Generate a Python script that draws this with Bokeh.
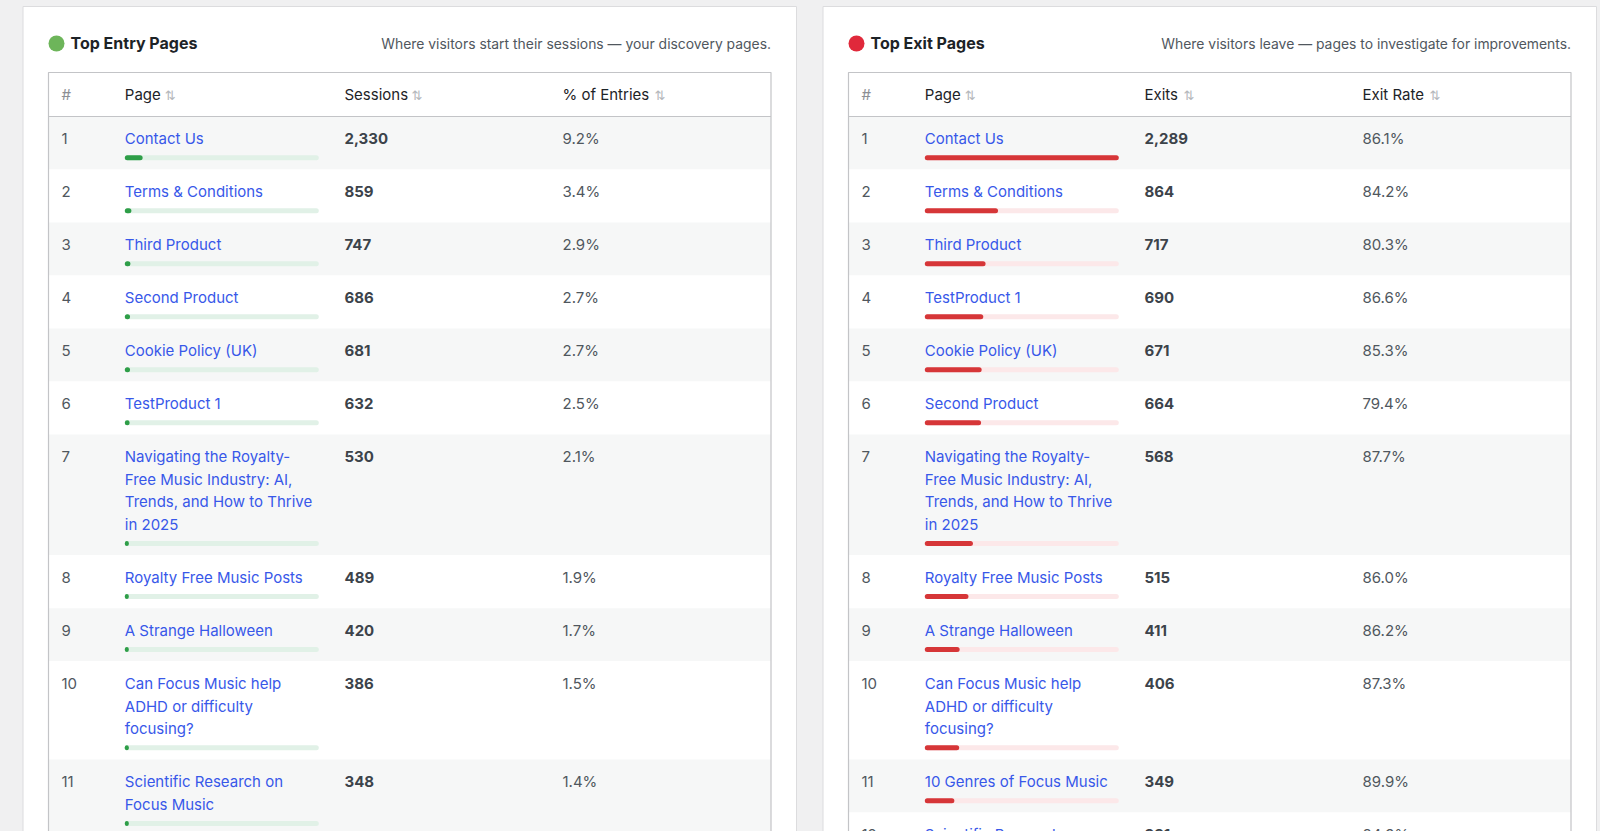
from bokeh.plotting import figure
from bokeh.embed import file_html
from bokeh.resources import INLINE
from bokeh.core.properties import value
from bokeh.models import Range1d, GlobalInlineStyleSheet

# --- data ---
entry_pages = [
    "Contact Us",
    "Terms & Conditions",
    "Third Product",
    "Second Product",
    "Cookie Policy (UK)",
    "TestProduct 1",
    "Navigating the Royalty-\nFree Music Industry: AI,\nTrends, and How to Thrive\nin 2025",
    "Royalty Free Music Posts",
    "A Strange Halloween",
    "Can Focus Music help\nADHD or difficulty\nfocusing?",
    "Scientific Research on\nFocus Music",
]
entry_sessions = [2330, 859, 747, 686, 681, 632, 530, 489, 420, 386, 348]
entry_share = [9.2, 3.4, 2.9, 2.7, 2.7, 2.5, 2.1, 1.9, 1.7, 1.5, 1.4]

exit_pages = [
    "Contact Us",
    "Terms & Conditions",
    "Third Product",
    "TestProduct 1",
    "Cookie Policy (UK)",
    "Second Product",
    "Navigating the Royalty-\nFree Music Industry: AI,\nTrends, and How to Thrive\nin 2025",
    "Royalty Free Music Posts",
    "A Strange Halloween",
    "Can Focus Music help\nADHD or difficulty\nfocusing?",
    "10 Genres of Focus Music",
    "Scientific Research on\nFocus Music",
]
exit_counts = [2289, 864, 717, 690, 671, 664, 568, 515, 411, 406, 349, 331]
exit_rate = [86.1, 84.2, 80.3, 86.6, 85.3, 79.4, 87.7, 86.0, 86.2, 87.3, 89.9, 84.9]

entry_headers = ["#", "Page", "Sessions", "% of Entries"]
exit_headers = ["#", "Page", "Exits", "Exit Rate"]

# --- layout (data units == page pixels) ---
FONT = value("Inter")
W, H = 1600, 831
TABLE_TOP, HEAD_BOTTOM = 72, 116
ROW_H, LINE_H = 53, 22.6
BAR_W = 194
COL_OFF = [13, 76.3, 296, 514]
HEAD_W = {"Page": 35, "Sessions": 62, "% of Entries": 87, "Exits": 34, "Exit Rate": 62}

p = figure(
    width=W, height=H,
    x_range=Range1d(0, W), y_range=Range1d(H, 0),
    output_backend="svg", toolbar_location=None, tools="",
    min_border=0, background_fill_color="#f0f0f1", border_fill_color="#f0f0f1",
    outline_line_color=None,
)
p.axis.visible = False
p.grid.visible = False
p.stylesheets = [GlobalInlineStyleSheet(
    css="body { margin: 0; background: #f0f0f1; overflow: hidden; }")]


def draw_panel(x0, title, subtitle, dot_color, headers, pages, counts, labels,
               fractions, bar_color, bar_bg):
    tl, tr = x0 + 25.5, x0 + 748
    p.quad(left=x0, right=x0 + 773.5, top=6, bottom=H + 40,
           fill_color="white", line_color="#dcdcde", line_width=1)
    p.scatter([x0 + 33.5], [43], size=16, marker="circle",
              fill_color=dot_color, line_color=None)
    p.text([x0 + 47.5], [42.3], text=[title], text_font=FONT, text_font_size="16px",
           text_font_style="bold", text_color="#1d2327", text_baseline="middle")
    p.text([tr], [43.5], text=[subtitle], text_font=FONT, text_font_size="13.9px",
           text_color="#50575e", text_align="right", text_baseline="middle")

    # rows
    tops, bottoms = [], []
    y = HEAD_BOTTOM
    for name in pages:
        h = ROW_H + name.count("\n") * LINE_H
        tops.append(y)
        bottoms.append(y + h)
        y += h
    fills = ["#f6f7f7" if i % 2 == 0 else "white" for i in range(len(pages))]
    p.quad(left=tl, right=tr, top=tops, bottom=bottoms, fill_color=fills, line_color=None)

    # table frame + header
    p.quad(left=tl, right=tr, top=TABLE_TOP, bottom=H + 40,
           fill_color=None, line_color="#c3c4c7", line_width=1.2)
    p.segment(x0=[tl], y0=[HEAD_BOTTOM], x1=[tr], y1=[HEAD_BOTTOM],
              line_color="#c3c4c7", line_width=1.2)
    hx = [tl + o for o in COL_OFF]
    p.text(hx[:1], [93.5], text=headers[:1], text_font=FONT, text_font_size="15px",
           text_color="#8c8f94", text_baseline="middle")
    p.text(hx[1:], [93.5] * 3, text=headers[1:], text_font=FONT, text_font_size="15px",
           text_color="#1d2327", text_baseline="middle")
    p.text([x + HEAD_W[t] + 5 for x, t in zip(hx[1:], headers[1:])], [94.5] * 3,
           text=["⇅"] * 3, text_font=value("DejaVu Sans"), text_font_size="13px",
           text_color="#b4b7bb", text_baseline="middle")

    # cells
    ranks = [str(i + 1) for i in range(len(pages))]
    ty = [t + 22.2 for t in tops]
    p.text([hx[0]] * len(pages), ty, text=ranks, text_font=FONT, text_font_size="15px",
           text_color="#50575e", text_baseline="middle")
    p.text([hx[2]] * len(pages), ty, text=[f"{c:,}" for c in counts], text_font=FONT,
           text_font_size="15px", text_font_style="bold", text_color="#3c434a",
           text_baseline="middle")
    p.text([hx[3]] * len(pages), ty, text=labels, text_font=FONT, text_font_size="15px",
           text_color="#50575e", text_baseline="middle")
    lx, ly, lt = [], [], []
    for t, name in zip(tops, pages):
        for j, line in enumerate(name.split("\n")):
            lx.append(hx[1])
            ly.append(t + 22.2 + j * LINE_H)
            lt.append(line)
    p.text(lx, ly, text=lt, text_font=FONT, text_font_size="15px",
           text_color="#3858e9", text_baseline="middle")

    # share bars
    by = [t + 41.3 + name.count("\n") * LINE_H for t, name in zip(tops, pages)]
    p.hbar(y=by, left=hx[1], right=hx[1] + BAR_W, height=5,
           fill_color=bar_bg, line_color=None, border_radius=3)
    p.hbar(y=by, left=hx[1], right=[hx[1] + max(BAR_W * f, 4) for f in fractions],
           height=5, fill_color=bar_color, line_color=None, border_radius=3)


draw_panel(22.5, "Top Entry Pages",
           "Where visitors start their sessions \u2014 your discovery pages.",
           "#6db55a", entry_headers, entry_pages, entry_sessions,
           [f"{v:.1f}%" for v in entry_share], [v / 100 for v in entry_share],
           "#2e9e48", "#e1f1e7")
draw_panel(822.5, "Top Exit Pages",
           "Where visitors leave \u2014 pages to investigate for improvements.",
           "#e0293b", exit_headers, exit_pages, exit_counts,
           [f"{v:.1f}%" for v in exit_rate], [c / max(exit_counts) for c in exit_counts],
           "#d63638", "#fce8e9")

open("out.html", "w").write(file_html(p, INLINE))
